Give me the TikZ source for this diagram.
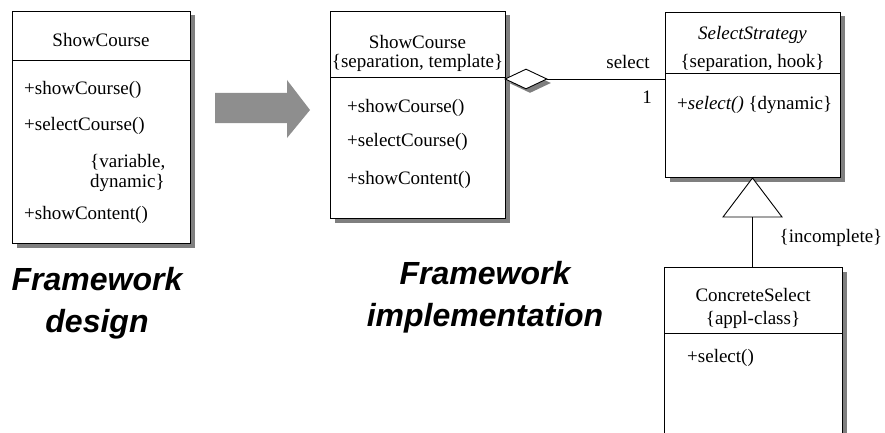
\documentclass[tikz,border=0pt]{standalone}
\usepackage{fontspec}
\setmainfont{Liberation Serif}
\newfontfamily\headfont{Liberation Sans}
\usetikzlibrary{shapes.geometric,shadows}
\definecolor{shadowgray}{HTML}{7F7F7F}
\definecolor{arrowgray}{HTML}{8E8E8E}
\begin{document}
\begin{tikzpicture}[x=1pt,y=-1pt,
  shd/.style={drop shadow={shadow xshift=4pt,shadow yshift=-4pt,fill=shadowgray,opacity=1}},
  cls/.style={draw,line width=1pt,fill=white,inner sep=0,anchor=north west,shd},
  divider/.style={line width=0.8pt},
  txt/.style={inner sep=0,font=\fontsize{19}{22}\selectfont},
  meth/.style={txt,anchor=west},
  head/.style={inner sep=0,align=center,font=\headfont\bfseries\itshape\fontsize{32}{42}\selectfont},
  link/.style={line width=0.9pt}]
\useasboundingbox (0,0) rectangle (885,433);
\clip (0,0) rectangle (885,433);

% Framework design class
\node[cls,minimum width=178pt,minimum height=232pt] (d1) at (12,11) {};
\draw[divider] (d1.west |- 0,60) -- (d1.east |- 0,60);
\node[txt] (d1name) at (101,40) {ShowCourse};
\node[meth] (d1m1) at (24,90) {+showCourse()};
\node[meth] (d1m2) at (24,126) {+selectCourse()};
\node[txt,anchor=west,align=left,font=\fontsize{19}{20}\selectfont] (d1c) at (90,173) {\{variable,\\dynamic\}};
\node[meth] (d1m3) at (24,215) {+showContent()};

% big gray arrow
\fill[arrowgray] (215,93) -- (287,93) -- (287,80) -- (310,110) -- (287,138) -- (287,123) -- (215,123) -- cycle;

% Framework implementation: ShowCourse
\node[cls,minimum width=175pt,minimum height=207pt] (sc) at (330,11) {};
\draw[divider] (sc.west |- 0,77) -- (sc.east |- 0,77);
\node[txt] (scname) at (417.5,42) {ShowCourse};
\node[txt] (scprop) at (417.5,63) {\{separation, template\}};
\node[meth] (scm1) at (347,108) {+showCourse()};
\node[meth] (scm2) at (347,142) {+selectCourse()};
\node[meth] (scm3) at (347,180) {+showContent()};

% SelectStrategy
\node[cls,minimum width=175pt,minimum height=165pt] (ss) at (665,12) {};
\draw[divider] (ss.west |- 0,73) -- (ss.east |- 0,73);
\node[txt] (ssname) at (752.5,35) {\itshape SelectStrategy};
\node[txt] (ssprop) at (752.5,63) {\{separation, hook\}};
\node[meth] (ssm1) at (677,105) {+\textit{select()} \{dynamic\}};

% aggregation
\node[diamond,draw,line width=0.9pt,fill=white,inner sep=0,minimum width=42pt,minimum height=20pt,shd] (agg) at (526,79) {};
\draw[link] (agg.east) -- (ss.west |- agg.east);
\node[txt] (sel) at (628,62) {select};
\node[txt] (one) at (647,97) {1};

% ConcreteSelect
\node[cls,minimum width=178pt,minimum height=190pt] (cs) at (664,267) {};
\draw[divider] (cs.west |- 0,333) -- (cs.east |- 0,333);
\node[txt] (csname) at (753,295) {ConcreteSelect};
\node[txt] (csprop) at (753,320) {\{appl-class\}};
\node[meth] (csm1) at (687,358) {+select()};

% generalization
\coordinate (tribase) at (752.5,217);
\draw[link,fill=white] (ss.south -| tribase) -- (723,217) -- (782,217) -- cycle;
\draw[link] (tribase) -- (tribase |- cs.north);
\node[txt] (inc) at (831,238) {\{incomplete\}};

% captions
\node[head] (cap1) at (97,303) {Framework\\design};
\node[head] (cap2) at (485,297) {Framework\\implementation};
\end{tikzpicture}
\end{document}
